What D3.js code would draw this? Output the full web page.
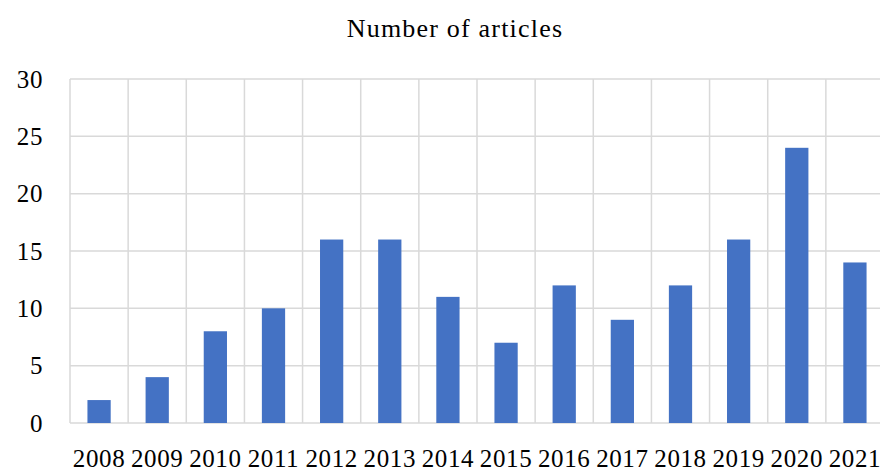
<!DOCTYPE html>
<html>
<head>
<meta charset="utf-8">
<script src="https://cdn.jsdelivr.net/npm/d3@7"></script>
<style>
  body { margin: 0; background: #fff; }
  text { font-family: "Liberation Serif", "Times New Roman", serif; fill: #000; }
</style>
</head>
<body>
<div class="canvas"></div>
<script>
const years = ['2008', '2009', '2010', '2011', '2012', '2013', '2014', '2015', '2016', '2017', '2018', '2019', '2020', '2021'];
const articles = [2, 4, 8, 10, 16, 16, 11, 7, 12, 9, 12, 16, 24, 14];
const yTicks = [0, 5, 10, 15, 20, 25, 30];

const dims = { width: 880, height: 471 };
const plot = { left: 70, right: 884, top: 79, bottom: 423 };

const svg = d3.select('.canvas')
    .append('svg')
    .attr('width', dims.width)
    .attr('height', dims.height);

const x = d3.scaleBand()
    .domain(years)
    .range([plot.left, plot.right])
    .paddingInner(0.6)
    .paddingOuter(0.3);

const xGrid = d3.scaleBand()
    .domain(years)
    .range([plot.left, plot.right]);

const y = d3.scaleLinear()
    .domain([0, 30])
    .range([plot.bottom, plot.top]);

// horizontal gridlines
svg.append('g')
    .selectAll('line')
    .data(yTicks)
    .enter()
    .append('line')
        .attr('x1', plot.left)
        .attr('x2', plot.right)
        .attr('y1', d => y(d))
        .attr('y2', d => y(d))
        .attr('stroke', '#d9d9d9')
        .attr('stroke-width', 1.5);

// vertical gridlines at band edges
svg.append('g')
    .selectAll('line')
    .data(years)
    .enter()
    .append('line')
        .attr('x1', d => xGrid(d))
        .attr('x2', d => xGrid(d))
        .attr('y1', plot.top)
        .attr('y2', plot.bottom)
        .attr('stroke', '#d9d9d9')
        .attr('stroke-width', 1.5);

// bars
svg.append('g')
    .selectAll('rect')
    .data(articles)
    .enter()
    .append('rect')
        .attr('x', (d, i) => x(years[i]))
        .attr('width', x.bandwidth())
        .attr('y', d => y(d))
        .attr('height', d => y(0) - y(d))
        .attr('fill', '#4472c4');

// y labels
svg.append('g')
    .selectAll('text')
    .data(yTicks)
    .enter()
    .append('text')
        .attr('x', 43)
        .attr('y', d => y(d))
        .attr('dy', '0.34em')
        .attr('text-anchor', 'end')
        .attr('font-size', 25)
        .attr('letter-spacing', 0.6)
        .text(d => d);

// x labels
svg.append('g')
    .selectAll('text')
    .data(years)
    .enter()
    .append('text')
        .attr('x', d => xGrid(d) + xGrid.bandwidth() / 2)
        .attr('y', 467)
        .attr('text-anchor', 'middle')
        .attr('font-size', 25)
        .attr('letter-spacing', 0.6)
        .text(d => d);

// title
svg.append('text')
    .attr('x', 455)
    .attr('y', 37)
    .attr('text-anchor', 'middle')
    .attr('font-size', 26)
    .attr('letter-spacing', 1.2)
    .text('Number of articles');
</script>
</body>
</html>
